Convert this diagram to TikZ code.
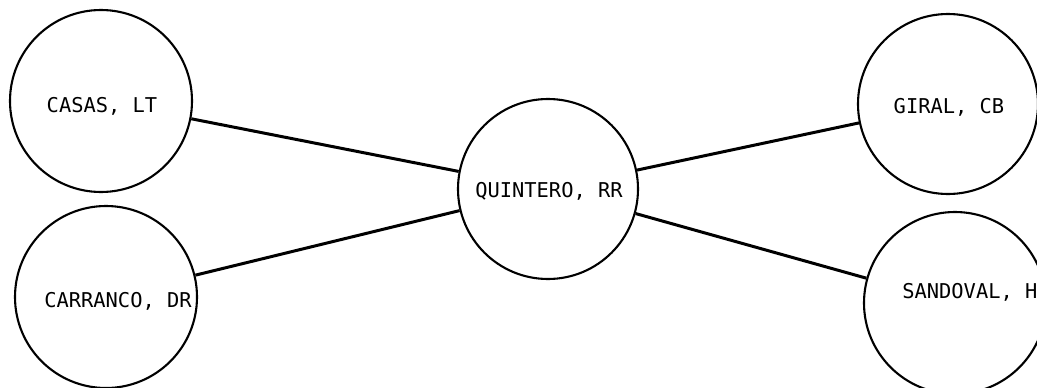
\documentclass[tikz,border=0pt]{standalone}
\usepackage{fontspec}
\setmonofont{DejaVu Sans Mono}

\tikzset{
    person/.style={circle, draw, line width=2.1pt, minimum size=182pt, inner sep=0pt},
    tagtext/.style={font=\ttfamily\fontsize{20.4}{24}\selectfont, inner sep=0pt},
    link/.style={line width=3pt}
}

\begin{document}
\begin{tikzpicture}[x=1pt, y=-1pt]

    \useasboundingbox (0,0) rectangle (1037,388);
    \clip (0,0) rectangle (1037,388);

    %draw circles:
    \node[person] (casas)    at (101,101) {};
    \node[person] (carranco) at (106,297) {};
    \node[person, minimum size=180pt] (quintero) at (548,189) {};
    \node[person, minimum size=180pt] (giral)    at (948,104) {};
    \node[person] (sandoval) at (955,303) {};

    %names:
    \node[tagtext] (casastext)    at (102,106) {CASAS, LT};
    \node[tagtext] (carrancotext) at (118,301) {CARRANCO, DR};
    \node[tagtext] (quinterotext) at (549,191) {QUINTERO, RR};
    \node[tagtext] (giraltext)    at (949,107) {GIRAL, CB};
    \node[tagtext] (sandovaltext) at (976,292) {SANDOVAL, HH};

    %draw links:
    \draw[link] (casas) -- (quintero);
    \draw[link] (carranco) -- (quintero);
    \draw[link] (quintero) -- (giral);
    \draw[link] (quintero) -- (sandoval);

\end{tikzpicture}
\end{document}
